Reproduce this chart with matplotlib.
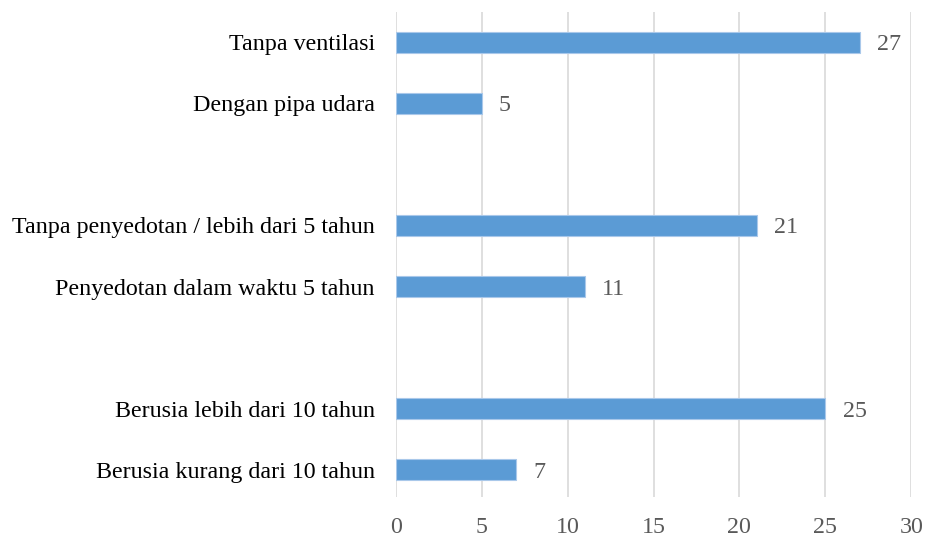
import matplotlib.pyplot as plt

# categories top to bottom, grouped in pairs
categories = [
    "Tanpa ventilasi",
    "Dengan pipa udara",
    "Tanpa penyedotan / lebih dari 5 tahun",
    "Penyedotan dalam waktu 5 tahun",
    "Berusia lebih dari 10 tahun",
    "Berusia kurang dari 10 tahun",
]
values = [27, 5, 21, 11, 25, 7]
x_ticks = [0, 5, 10, 15, 20, 25, 30]

# one empty slot between each pair
positions = [i + i // 2 for i in range(len(categories))]

plt.rcParams['font.family'] = ['Liberation Serif', 'DejaVu Serif']

fig = plt.figure(figsize=(9.27, 5.38), dpi=100)
ax = fig.add_axes([0.427, 0.076, 0.556, 0.902])

bars = ax.barh(positions, values, height=0.34, color="#5B9BD5",
               edgecolor="#A9C8EA", linewidth=0.8, zorder=3)
for p, v in zip(positions, values):
    ax.text(v + 1.0, p, str(v), va="center_baseline", ha="left",
            fontsize=17.3, color="#595959")

ax.set_yticks(positions)
ax.set_yticklabels(categories, fontsize=17.3, color="black", va="center_baseline")
ax.set_ylim(7.45, -0.5)
ax.set_xlim(0, 30)
ax.set_xticks(x_ticks)
ax.set_xticklabels([str(t) for t in x_ticks], fontsize=17.3, color="#595959")
ax.tick_params(axis="both", length=0)
ax.tick_params(axis="y", pad=15)
ax.tick_params(axis="x", pad=14)
ax.grid(axis="x", color="#D9D9D9", linewidth=1.2, zorder=0)
for s in ax.spines.values():
    s.set_visible(False)

fig.savefig("out.png", dpi=100)
